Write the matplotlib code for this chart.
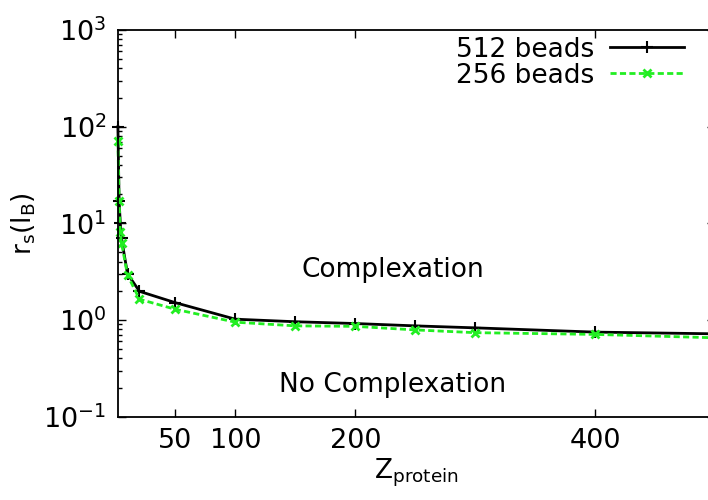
import matplotlib
matplotlib.use("Agg")
import matplotlib.pyplot as plt
from matplotlib.ticker import LogLocator, LogFormatterMathtext, NullFormatter, FixedLocator

z_protein = [2, 3, 4, 5, 10, 20, 50, 100, 150, 200, 250, 300, 400, 500]
rs_512 = [100, 17, 10, 7.0, 3.0, 1.98, 1.51, 1.02, 0.96, 0.92, 0.87, 0.83, 0.75, 0.72]
rs_256 = [71, 17, 8.1, 6.3, 2.92, 1.64, 1.29, 0.95, 0.87, 0.86, 0.79, 0.74, 0.71, 0.655]
x_ticks = [50, 100, 200, 400]

plt.rcParams["font.family"] = ["DejaVu Sans"]
plt.rcParams["mathtext.default"] = "regular"
plt.rcParams["font.size"] = 19

fig = plt.figure(figsize=(7.08, 5.0), dpi=100)
ax = fig.add_axes([0.1662, 0.1666, 0.8437, 0.7734])

ax.plot(z_protein, rs_512, color="black", lw=2, marker="+", ms=8, mew=1.5,
        label="512 beads", clip_on=False)
ax.plot(z_protein, rs_256, color="#22ee22", lw=2, ls=(0, (2.2, 1.2)), marker="x",
        ms=6, mew=2, label="256 beads", clip_on=False)

ax.set_yscale("log")
ax.set_xlim(1.8, 500)
ax.set_ylim(0.1, 1000)
ax.xaxis.set_major_locator(FixedLocator(x_ticks))
ax.yaxis.set_major_locator(LogLocator(base=10, numticks=10))
ax.yaxis.set_major_formatter(LogFormatterMathtext())
ax.yaxis.set_minor_locator(LogLocator(base=10, subs=range(2, 10), numticks=10))
ax.yaxis.set_minor_formatter(NullFormatter())
ax.tick_params(which="both", direction="in", top=True, right=True, width=1)
ax.tick_params(which="major", length=6, pad=8, labelsize=19.5)
ax.tick_params(which="minor", length=3)
for sp in ax.spines.values():
    sp.set_linewidth(1.3)

ax.set_xlabel("Z$_{protein}$", labelpad=2)
ax.set_ylabel("r$_s$(l$_B$)", labelpad=4)

ax.text(231, 3.29, "Complexation", ha="center", va="center")
ax.text(231, 0.213, "No Complexation", ha="center", va="center")

ax.legend(loc="upper right", frameon=False, markerfirst=False, handlelength=2.8,
          borderaxespad=0.0, labelspacing=0.0, handletextpad=0.6,
          bbox_to_anchor=(0.965, 1.01))

fig.savefig("out.png", dpi=100)
